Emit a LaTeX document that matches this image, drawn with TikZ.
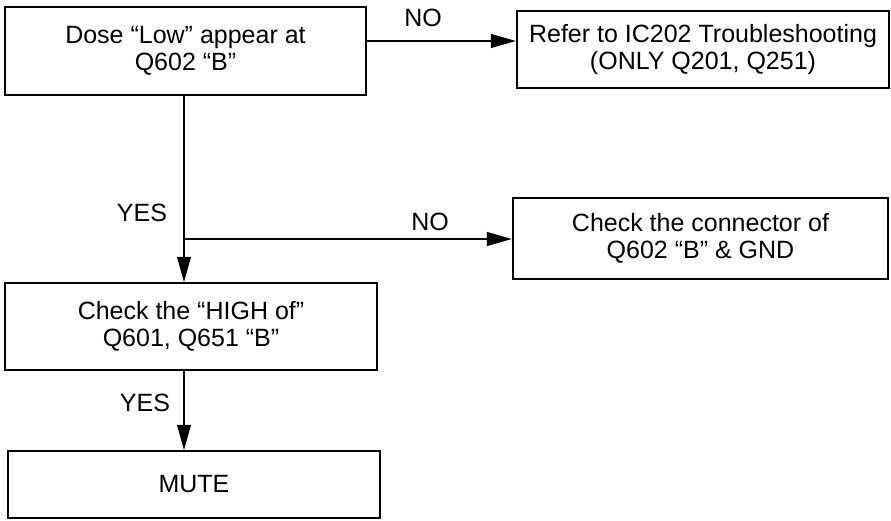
\documentclass[tikz,border=0pt]{standalone}
\usepackage{fontspec}
\setmainfont{Liberation Sans}
\usetikzlibrary{arrows.meta}
\begin{document}
\begin{tikzpicture}[x=1pt,y=-1pt,
  box/.style={draw, line width=2.4pt, rectangle, align=center, inner sep=0pt,
    font=\fontsize{25}{27.5}\selectfont},
  lbl/.style={font=\fontsize{25}{27}\selectfont, inner sep=0pt},
  link/.style={line width=1.1pt},
  arr/.style={link, -{Triangle[length=25pt,width=14pt]}}]
\useasboundingbox (0,0) rectangle (891,520);

% decision and action boxes
\node[box, minimum width=361pt, minimum height=88pt] (low) at (185.5,51)
  {Dose “Low” appear at\\Q602 “B”};
\node[box, minimum width=372pt, minimum height=77pt] (ic) at (703,49.5)
  {Refer to IC202 Troubleshooting\\(ONLY Q201, Q251)};
\node[box, minimum width=375pt, minimum height=81pt] (conn) at (700.5,238.5)
  {Check the connector of\\Q602 “B” \& GND};
\node[box, minimum width=372pt, minimum height=87pt] (high) at (191,326.5)
  {Check the “HIGH of”\\Q601, Q651 “B”};
\node[box, minimum width=372pt, minimum height=67pt] (mute) at (194,484.5)
  {MUTE};

% helper points on the connectors
\coordinate (noy) at (0,41);
\coordinate (spine) at (184,0);
\coordinate (fork) at (184,239);

% NO branch to the IC202 box
\draw[arr] (low.east |- noy) -- (ic.west |- noy);
% YES spine with the second NO branch
\draw[link] (spine |- low.south) -- (fork);
\draw[arr] (fork) -- (fork -| conn.west);
\draw[arr] (fork) -- (spine |- high.north);
\draw[arr] (spine |- high.south) -- (spine |- mute.north);

% branch labels
\node[lbl] (no1) at (423,18) {NO};
\node[lbl] (no2) at (430,222) {NO};
\node[lbl] (yes1) at (142,213) {YES};
\node[lbl] (yes2) at (145,403) {YES};
\end{tikzpicture}
\end{document}
